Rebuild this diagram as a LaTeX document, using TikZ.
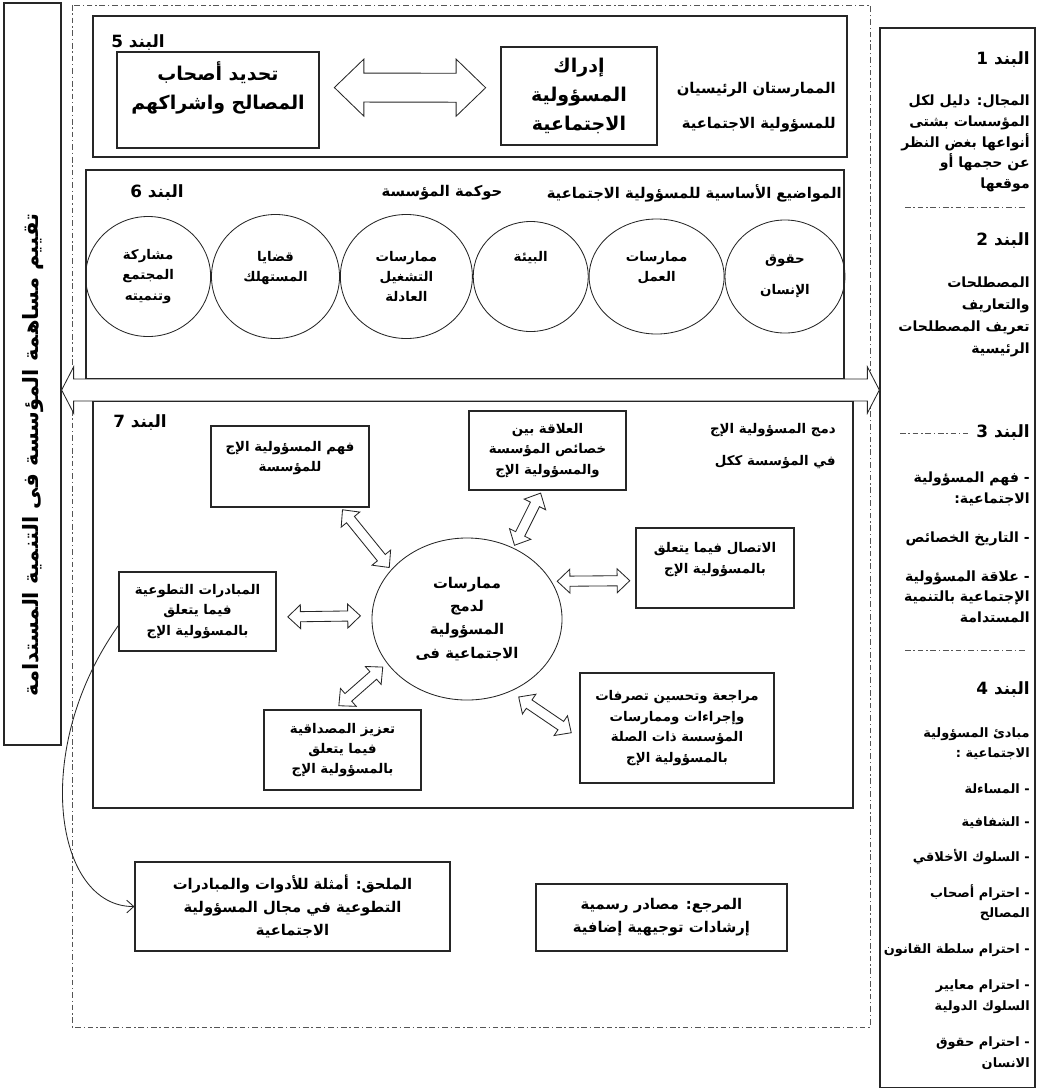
\documentclass[tikz,border=0pt]{standalone}
\usepackage{fontspec}
\newfontfamily\arabicfont[Script=Arabic]{DejaVu Sans}
\TeXXeTstate=1
\usetikzlibrary{arrows.meta, positioning, shapes.geometric, calc}
\definecolor{linegray}{HTML}{262626}
\definecolor{framegray}{HTML}{555555}
\newcommand{\artxt}[1]{\beginR #1\endR}
\newcommand{\bodyfont}{\arabicfont\bfseries\fontsize{9.5}{14.5}\selectfont}
\newcommand{\colfont}{\arabicfont\bfseries\fontsize{10}{14.6}\selectfont}
\newcommand{\listfont}{\arabicfont\bfseries\fontsize{9.2}{14.6}\selectfont}
\newcommand{\midfont}{\arabicfont\bfseries\fontsize{10.5}{16.5}\selectfont}
\newcommand{\bigfont}{\arabicfont\bfseries\fontsize{13.5}{20.5}\selectfont}
\newcommand{\headfont}{\arabicfont\bfseries\fontsize{12}{14}\selectfont}
\newcommand{\evalfont}{\arabicfont\bfseries\fontsize{15}{18}\selectfont}
\tikzset{
  panel/.style={draw=linegray, line width=0.9pt, inner sep=0pt},
  card/.style={draw=linegray, line width=0.8pt, align=center, inner sep=2pt, font=\bodyfont},
  bigcard/.style={card, font=\bigfont},
  topic/.style={ellipse, draw=linegray, line width=0.6pt, align=center, inner sep=0pt, font=\bodyfont},
  head/.style={inner sep=0pt, font=\headfont},
  note/.style={inner sep=0pt, align=right, font=\bodyfont},
  frame/.style={draw=framegray, line width=0.6pt, dash pattern=on 4pt off 2pt on 1pt off 2pt},
  hollow/.style n args={4}{draw=linegray, fill=white, line width=0.6pt, line join=miter,
    to path={($(\tikztostart)!#4!(\tikztotarget)$) coordinate (ha)
      ($(\tikztotarget)!#4!(\tikztostart)$) coordinate (hb)
      (ha) -- ($(ha)!#3!(hb)!#1!90:(hb)$) -- ($(ha)!#3!(hb)!#2!90:(hb)$)
      -- ($(hb)!#3!(ha)!#2!-90:(ha)$) -- ($(hb)!#3!(ha)!#1!-90:(ha)$) -- (hb)
      -- ($(hb)!#3!(ha)!#1!90:(ha)$) -- ($(hb)!#3!(ha)!#2!90:(ha)$)
      -- ($(ha)!#3!(hb)!#2!-90:(hb)$) -- ($(ha)!#3!(hb)!#1!-90:(hb)$) -- cycle}},
  biflow/.style={hollow={8.5pt}{3.6pt}{9pt}{#1}},
  biflow/.default=3pt,
  bigflow/.style={hollow={20.3pt}{10.3pt}{21pt}{10.5pt}},
  wideflow/.style={hollow={16.4pt}{7.8pt}{8.5pt}{0pt}},
  curv/.style={draw=linegray, line width=0.6pt, -{Straight Barb[length=5pt, width=9pt]}},
}

\begin{document}
\begin{tikzpicture}[x=0.025cm, y=-0.025cm]
  \useasboundingbox (0,0) rectangle (1040,1088);
  % frame and side columns
  \draw[frame] (72,5) rectangle (870,1027);
  \node (evalbox) [panel, minimum width=1.425cm, minimum height=18.55cm] at (32.5,374) {};
  \node (evaltxt) [rotate=90, inner sep=0pt, font=\evalfont] at (33,455) {\artxt{تقييم مساهمة المؤسسة فى التنمية المستدامة}};
  \node (clausebox) [panel, minimum width=3.875cm, minimum height=26.475cm] at (957.5,557.5) {};

  % clause 5
  \node (band5) [panel, minimum width=18.85cm, minimum height=3.525cm] at (470,86.5) {};
  \node (h5) [head] at (138,43) {\artxt{البند 5}};
  \node (stake) [bigcard, minimum width=5.05cm, minimum height=2.4cm] at (218,100) {\artxt{تحديد أصحاب}\\\artxt{المصالح واشراكهم}\\~};
  \node (idrak) [bigcard, minimum width=3.9cm, minimum height=2.45cm] at (579,96) {\artxt{إدراك}\\\artxt{المسؤولية}\\\artxt{الاجتماعية}};
  \node (two1) [note, font=\midfont, anchor=east] at (836,90) {\artxt{الممارستان الرئيسيان}};
  \node (two2) [note, font=\midfont, anchor=east] at (836,125) {\artxt{للمسؤولية الاجتماعية}};
  \draw[bigflow] (stake.7) to (idrak.174);

  % clause 6
  \node (band6) [panel, minimum width=18.95cm, minimum height=5.225cm] at (465,274.5) {};
  \node (h6) [head] at (157,193) {\artxt{البند 6}};
  \node (gov) [note, font=\midfont] at (442,193) {\artxt{حوكمة المؤسسة}};
  \node (core) [note, font=\midfont, anchor=east] at (842,193) {\artxt{المواضيع الأساسية للمسؤولية الاجتماعية}};
  \node (huquq) [topic, minimum width=3cm, minimum height=2.825cm] at (785,276.5) {\artxt{حقوق}\\[7.5pt]\artxt{الإنسان}};
  \node (amal) [topic, minimum width=3.375cm, minimum height=2.875cm, left=0pt of huquq] {\artxt{ممارسات}\\\artxt{العمل}\\~};
  \node (biaa) [topic, minimum width=2.875cm, minimum height=2.75cm, left=0pt of amal] {\artxt{البيئة}\\~\\~};
  \node (tashghil) [topic, minimum width=3.3cm, minimum height=3.1cm, left=0pt of biaa] {\artxt{ممارسات}\\\artxt{التشغيل}\\\artxt{العادلة}};
  \node (qadaya) [topic, minimum width=3.2cm, minimum height=3.1cm, left=0pt of tashghil] {\artxt{قضايا}\\\artxt{المستهلك}\\~};
  \node (mushar) [topic, minimum width=3.125cm, minimum height=3cm, left=0pt of qadaya] {\artxt{مشاركة}\\\artxt{المجتمع}\\\artxt{وتنميته}};

  % clause 7
  \node (band7) [panel, minimum width=19cm, minimum height=10.175cm] at (473,604.5) {};
  \node (h7) [head] at (140,423) {\artxt{البند 7}};
  \node (whole1) [note, anchor=east] at (836,430) {\artxt{دمج المسؤولية  الإج}};
  \node (whole2) [note, anchor=east] at (836,462) {\artxt{في المؤسسة ككل}};
  \node (circ) [topic, font=\midfont, minimum width=4.75cm, minimum height=4.05cm] at (467,619) {\artxt{ممارسات}\\\artxt{لدمج}\\\artxt{المسؤولية}\\\artxt{الاجتماعية فى}};
  \node (fahm) [card, minimum width=3.95cm, minimum height=2.025cm] at (290,466.5) {\artxt{فهم المسؤولية الإج}\\\artxt{للمؤسسة}\\~};
  \node (alaqa) [card, minimum width=3.925cm, minimum height=1.975cm] at (547.5,450.5) {\artxt{العلاقة بين}\\\artxt{خصائص المؤسسة}\\\artxt{والمسؤولية  الإج}};
  \node (ittisal) [card, minimum width=3.95cm, minimum height=2cm] at (715,568) {\artxt{الاتصال فيما يتعلق}\\\artxt{بالمسؤولية الإج}\\~};
  \node (mubadarat) [card, minimum width=3.925cm, minimum height=1.975cm] at (197.5,611.5) {\artxt{المبادرات التطوعية}\\\artxt{فيما يتعلق}\\\artxt{بالمسؤولية الإج}};
  \node (taziz) [card, minimum width=3.925cm, minimum height=2cm] at (342.5,750) {\artxt{تعزيز المصداقية}\\\artxt{فيما يتعلق}\\\artxt{بالمسؤولية الإج}};
  \node (muraja) [card, minimum width=4.85cm, minimum height=2.75cm] at (677,728) {\artxt{مراجعة وتحسين تصرفات}\\\artxt{وإجراءات وممارسات}\\\artxt{المؤسسة ذات الصلة}\\\artxt{بالمسؤولية الإج}};
  \draw[biflow=2pt] (fahm.-39) to (circ.147);
  \draw[biflow=2pt] (alaqa.262) to (circ.57);
  \draw[biflow=4pt] (ittisal.189) to (circ.24);
  \draw[biflow=8pt] (mubadarat.-4) to (circ.178);
  \draw[biflow=4pt] (taziz.101) to (circ.209);
  \draw[biflow=7pt] (muraja.186) to (circ.-59);

  % band arrow between the side columns
  \coordinate (axis) at (470,390);
  \draw[wideflow] (evalbox.east |- axis) to (clausebox.west |- axis);

  % annex and references
  \node (mulhaq) [card, font=\midfont, minimum width=7.875cm, minimum height=2.225cm] at (292.5,906.5) {\artxt{الملحق: أمثلة للأدوات والمبادرات}\\\artxt{التطوعية في مجال المسؤولية}\\\artxt{الاجتماعية}};
  \node (marja) [card, font=\midfont, minimum width=6.275cm, minimum height=1.675cm] at (661.5,917.5) {\artxt{المرجع: مصادر رسمية}\\\artxt{إرشادات توجيهية إضافية}};
  \draw[curv] (mubadarat.190) .. controls (30,750) and (55,907) .. (mulhaq.west);

  % clauses 1-4
  \node (h1) [head, anchor=east] at (1030,60) {\artxt{البند 1}};
  \node (c1) [note, font=\colfont, anchor=north east] at (1030,95) {\artxt{المجال:  دليل لكل}\\\artxt{المؤسسات بشتى}\\\artxt{أنواعها بغض النظر}\\\artxt{عن حجمها أو}\\\artxt{موقعها}};
  \draw[frame] (905,207) -- (1025,207);
  \node (h2) [head, anchor=east] at (1030,241) {\artxt{البند 2}};
  \node (c2) [note, font=\colfont, anchor=north east] at (1030,277) {\artxt{المصطلحات}\\[1pt]\artxt{والتعاريف}\\[1pt]\artxt{تعريف المصطلحات}\\[1pt]\artxt{الرئيسية}};
  \draw[frame] (900,433) -- (968,433);
  \node (h3) [head, anchor=east] at (1030,433) {\artxt{البند 3}};
  \node (c3) [note, font=\colfont, anchor=north east] at (1030,472) {\artxt{فهم المسؤولية} -\\\artxt{الاجتماعية:}\\[13pt]\artxt{التاريخ الخصائص} -\\[13pt]\artxt{علاقة المسؤولية} -\\\artxt{الإجتماعية بالتنمية}\\\artxt{المستدامة}};
  \draw[frame] (905,650) -- (1025,650);
  \node (h4) [head, anchor=east] at (1030,690) {\artxt{البند 4}};
  \node (c4) [note, font=\listfont, anchor=north east] at (1030,727) {\artxt{مبادئ المسؤولية}\\\artxt{الاجتماعية :}\\[11pt]\artxt{المساءلة} -\\[9pt]\artxt{الشفافية} -\\[10pt]\artxt{السلوك الأخلاقي} -\\[11pt]\artxt{احترام أصحاب} -\\\artxt{المصالح}\\[11pt]\artxt{احترام سلطة القانون} -\\[11pt]\artxt{احترام معايير} -\\\artxt{السلوك الدولية}\\[11pt]\artxt{احترام حقوق} -\\\artxt{الانسان}};
\end{tikzpicture}
\end{document}
